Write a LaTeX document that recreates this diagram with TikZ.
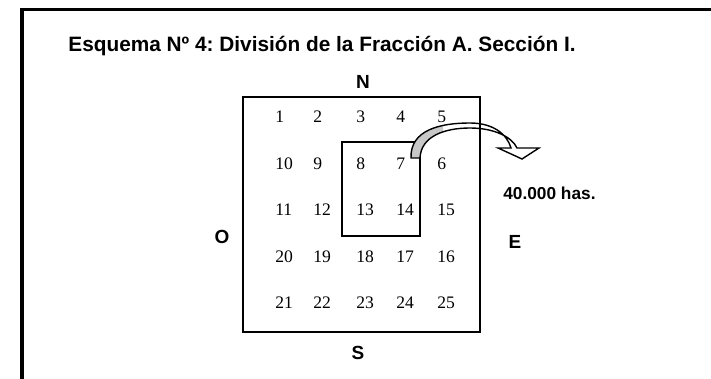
\documentclass[tikz,border=0pt]{standalone}
\usepackage{fontspec}
\setmainfont{Liberation Serif}
\setsansfont{Liberation Sans}
\usetikzlibrary{positioning}
\definecolor{bandgray}{RGB}{200,200,200}
\frenchspacing
\begin{document}
\begin{tikzpicture}[x=0.025cm, y=-0.025cm, line join=miter,
	lbl/.style={font=\sffamily\bfseries\fontsize{13.5}{15}\selectfont},
	num/.style={anchor=west, inner sep=0pt, font=\fontsize{12.5}{14}\selectfont}]
		\useasboundingbox (0,0) rectangle (711,379);
		% frame
		\draw[line width=2.8pt] (22,379) -- (22,9.5) -- (711,9.5);
		\node[lbl, font=\sffamily\bfseries\fontsize{14.8}{16}\selectfont, anchor=base] (title) at (322,52) {Esquema Nº 4: División de la Fracción A. Sección I.};
		% numbered lots
		\foreach \ca/\cb/\cc/\cd/\ce [count=\r] in {1/2/3/4/5,10/9/8/7/6,11/12/13/14/15,20/19/18/17/16,21/22/23/24/25}{
			\pgfmathsetmacro{\yy}{117+46.5*(\r-1)}
			\node[num] (n\ca) at (275,\yy) {\ca};
			\node[num] (n\cb) at (313,\yy) {\cb};
			\node[num] (n\cc) at (356,\yy) {\cc};
			\node[num] (n\cd) at (396,\yy) {\cd};
			\node[num] (n\ce) at (437,\yy) {\ce};
		}
		% section
		\draw[line width=1.2pt] (342,142) rectangle (420,236);
		% curved arrow
		\def\arrowpath{(411,158) .. controls (410,130) and (440,123) .. (470,123)
			.. controls (493,123) and (507,134) .. (511,148)
			-- (498,148) -- (522,159) -- (539,148) -- (517,148)
			.. controls (512,137) and (494,128) .. (470,128)
			.. controls (445,128) and (421,136) .. (420,158) -- cycle}
		\fill[white] \arrowpath;
		\begin{scope}
			\clip (400,120) rectangle (443,160);
			\fill[bandgray] \arrowpath;
		\end{scope}
		\draw[line width=1pt] \arrowpath;
		% fraction
		\draw[line width=1.3pt] (243,97) rectangle (480,332);
		\node[lbl] (north) at (363,82) {N};
		\node[lbl] (south) at (358,353) {S};
		\node[lbl] (west) at (222,237) {O};
		\node[lbl] (east) at (515,242) {E};
		\node[lbl, font=\sffamily\bfseries\fontsize{12.3}{14}\selectfont, anchor=west, inner sep=0pt] (area) at (503,193) {40.000 has.};
	\end{tikzpicture}
\end{document}
